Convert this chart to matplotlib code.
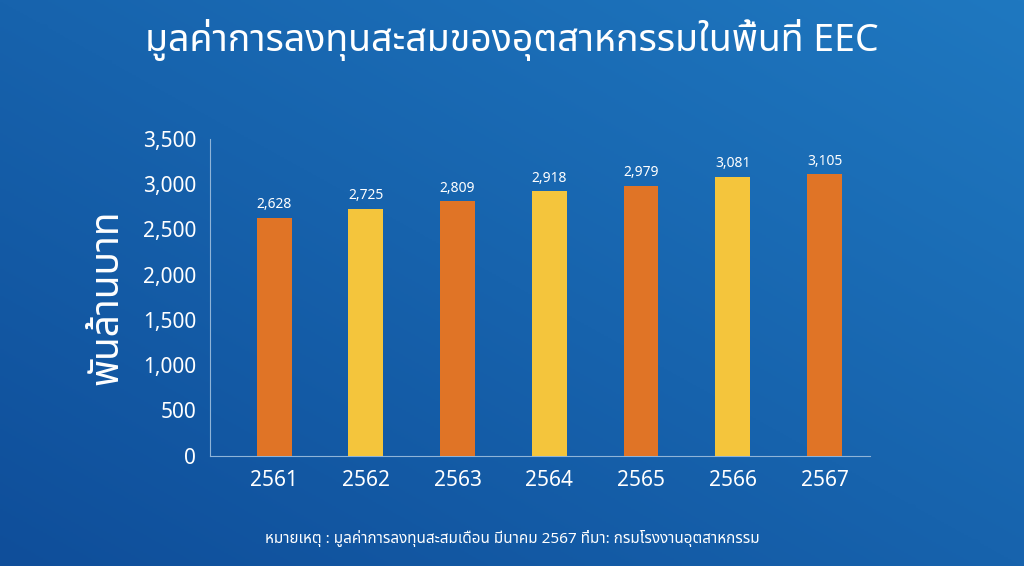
import matplotlib
matplotlib.use("Agg")
import matplotlib.pyplot as plt
import numpy as np

years = ["2561", "2562", "2563", "2564", "2565", "2566", "2567"]
values = [2628, 2725, 2809, 2918, 2979, 3081, 3105]
bar_colors = ["#E07426", "#F4C53C", "#E07426", "#F4C53C", "#E07426", "#F4C53C", "#E07426"]
title = "มูลค่าการลงทุนสะสมของอุตสาหกรรมในพื้นที่ EEC"
ylabel = "พันล้านบาท"
note = "หมายเหตุ : มูลค่าการลงทุนสะสมเดือน มีนาคม 2567 ที่มา: กรมโรงงานอุตสาหกรรม"

plt.rcParams['font.family'] = ['Noto Sans Thai', 'Noto Sans', 'DejaVu Sans']

fig = plt.figure(figsize=(10.24, 5.66), dpi=100)
# blue gradient background
bg = fig.add_axes([0, 0, 1, 1])
grad = np.linspace(0, 1, 256)
g2 = np.outer(np.ones(256), grad) * 0.5 + np.outer(grad[::-1], np.ones(256)) * 0.5
bg.imshow(g2, cmap=matplotlib.colors.LinearSegmentedColormap.from_list("b", ["#0f4e9a", "#1f78c0"]),
          aspect='auto', extent=[0, 1, 0, 1])
bg.axis('off')

fig.text(0.5, 0.93, title, color='white', fontsize=27, fontweight='bold', ha='center', va='center')
fig.text(0.5, 0.048, note, color='white', fontsize=11, ha='center', va='center')

ax = fig.add_axes([0.205, 0.195, 0.645, 0.56])
ax.set_facecolor('none')
x = np.arange(len(years))
bars = ax.bar(x, values, width=0.38, color=bar_colors, zorder=3)
for xi, v in zip(x, values):
    ax.text(xi, v + 60, f"{v:,}", color='white', fontsize=10, ha='center', va='bottom')
ax.set_ylim(0, 3500)
ax.set_xlim(-0.7, 6.5)
ax.set_yticks(range(0, 3501, 500))
ax.set_yticklabels([f"{t:,}" for t in range(0, 3501, 500)], color='white', fontsize=15)
ax.set_xticks(x)
ax.set_xticklabels(years, color='white', fontsize=15)
ax.tick_params(length=0, pad=10)
for s in ['top', 'right']:
    ax.spines[s].set_visible(False)
for s in ['left', 'bottom']:
    ax.spines[s].set_color('#8fb4d8')
ax.set_ylabel(ylabel, color='white', fontsize=28, fontweight='bold', labelpad=12)

fig.savefig("out.png", dpi=100)
